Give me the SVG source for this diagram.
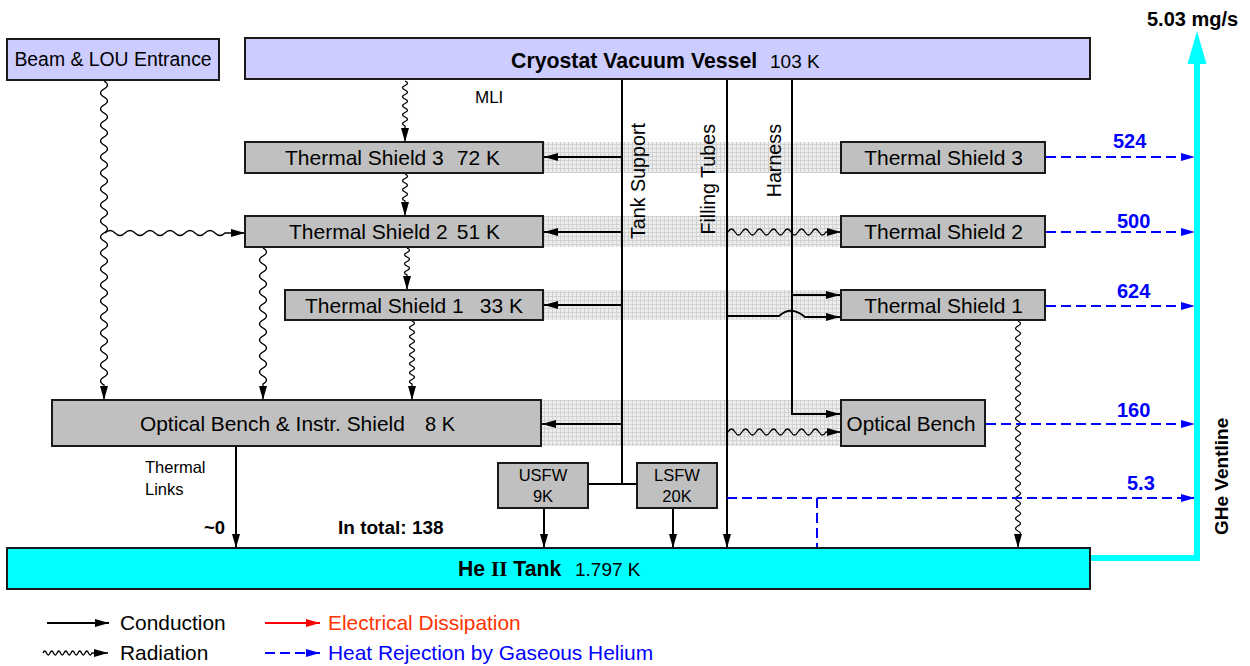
<svg xmlns="http://www.w3.org/2000/svg" width="1250" height="666" viewBox="0 0 1250 666">
<style>
.box{stroke:#1a1a1a;stroke-width:2}
.gray{fill:#c0c0c0}
.lav{fill:#ccccff}
.cyan{fill:#00ffff}
.band{fill:url(#hatch)}
text{font-family:"Liberation Sans",Arial,Helvetica,sans-serif;fill:#000;font-size:19px}
.b{font-weight:bold}
.m{text-anchor:middle}
.e{text-anchor:end}
.ts{font-size:21px}
.vl{font-size:19.7px}
.cond{fill:none;stroke:#000;stroke-width:2}
.rad{fill:none;stroke:#000;stroke-width:1.3}
.gas{fill:none;stroke:#0000ff;stroke-width:2;stroke-dasharray:10 5}
.num{fill:#0000ff;font-weight:bold;font-size:20px}
.leg{font-size:20.9px}
</style>
<defs>
<pattern id="hatch" width="4" height="4" patternUnits="userSpaceOnUse"><rect width="4" height="4" fill="#ededed"/><path d="M0 0.5H4M0.5 0V4" stroke="#d2d2d2" stroke-width="1"/></pattern>
<marker id="ah" viewBox="0 0 14 8" refX="14" refY="4" markerWidth="14" markerHeight="8" markerUnits="userSpaceOnUse" orient="auto"><path d="M0 0L14 4L0 8z" fill="#000"/></marker>
<marker id="ahb" viewBox="0 0 14 8" refX="14" refY="4" markerWidth="14" markerHeight="8" markerUnits="userSpaceOnUse" orient="auto"><path d="M0 0L14 4L0 8z" fill="#0000ff"/></marker>
<marker id="ahr" viewBox="0 0 14 8" refX="14" refY="4" markerWidth="14" markerHeight="8" markerUnits="userSpaceOnUse" orient="auto"><path d="M0 0L14 4L0 8z" fill="#ff0000"/></marker>
</defs>

<g id="bands">
<rect class="band" x="543" y="142" width="298" height="31"/>
<rect class="band" x="543" y="216" width="298" height="31"/>
<rect class="band" x="543" y="290" width="298" height="30"/>
<rect class="band" x="541" y="400" width="300" height="46"/>
</g>

<g id="connectors">
<!-- radiation -->
<path class="rad" marker-end="url(#ah)" d="M104 81q7 4 0 8t0 8t0 8t0 8t0 8t0 8t0 8t0 8t0 8t0 8t0 8t0 8t0 8t0 8t0 8t0 8t0 8t0 8t0 8t0 8t0 8t0 8t0 8t0 8t0 8t0 8t0 8t0 8t0 8t0 8t0 8t0 8t0 8t0 8t0 8t0 8t0 8t0 8L104 400"/>
<path class="rad" marker-end="url(#ah)" d="M105 233q5 -5 10 0t10 0t10 0t10 0t10 0t10 0t10 0t10 0t10 0t10 0t10 0t10 0L245 233"/>
<path class="rad" marker-end="url(#ah)" d="M405 81q5 2.25 0 4.5t0 4.5t0 4.5t0 4.5t0 4.5t0 4.5t0 4.5t0 4.5t0 4.5t0 4.5L405 142"/>
<path class="rad" marker-end="url(#ah)" d="M405 174q5 2.25 0 4.5t0 4.5t0 4.5t0 4.5t0 4.5t0 4.5L405 216"/>
<path class="rad" marker-end="url(#ah)" d="M407 248q5 2.25 0 4.5t0 4.5t0 4.5t0 4.5t0 4.5t0 4.5L407 290"/>
<path class="rad" marker-end="url(#ah)" d="M263 248q7 4 0 8t0 8t0 8t0 8t0 8t0 8t0 8t0 8t0 8t0 8t0 8t0 8t0 8t0 8t0 8t0 8t0 8L263 400"/>
<path class="rad" marker-end="url(#ah)" d="M412 321q5 2.25 0 4.5t0 4.5t0 4.5t0 4.5t0 4.5t0 4.5t0 4.5t0 4.5t0 4.5t0 4.5t0 4.5t0 4.5t0 4.5t0 4.5L412 400"/>
<path class="rad" marker-end="url(#ah)" d="M1018 321q5 2.5 0 5t0 5t0 5t0 5t0 5t0 5t0 5t0 5t0 5t0 5t0 5t0 5t0 5t0 5t0 5t0 5t0 5t0 5t0 5t0 5t0 5t0 5t0 5t0 5t0 5t0 5t0 5t0 5t0 5t0 5t0 5t0 5t0 5t0 5t0 5t0 5t0 5t0 5t0 5t0 5t0 5t0 5t0 5L1018 548"/>
<path class="rad" marker-end="url(#ah)" d="M728 232q3.5 -6 7 0t7 0t7 0t7 0t7 0t7 0t7 0t7 0t7 0t7 0t7 0t7 0t7 0t7 0L841 232"/>
<path class="rad" marker-end="url(#ah)" d="M728 432q3.5 -6 7 0t7 0t7 0t7 0t7 0t7 0t7 0t7 0t7 0t7 0t7 0t7 0t7 0t7 0L841 432"/>
<!-- conduction -->
<path class="cond" d="M622 80V484M588 484H637"/>
<path class="cond" marker-end="url(#ah)" d="M622 157H544"/>
<path class="cond" marker-end="url(#ah)" d="M622 232H544"/>
<path class="cond" marker-end="url(#ah)" d="M622 305H544"/>
<path class="cond" marker-end="url(#ah)" d="M622 424H542"/>
<path class="cond" marker-end="url(#ah)" d="M544 509V548"/>
<path class="cond" marker-end="url(#ah)" d="M673 509V548"/>
<path class="cond" marker-end="url(#ah)" d="M727 80V548"/>
<path class="cond" marker-end="url(#ah)" d="M727 316H779Q791 305 805 317H840"/>
<path class="cond" marker-end="url(#ah)" d="M792 80V414H840"/>
<path class="cond" marker-end="url(#ah)" d="M792 295H840"/>
<path class="cond" marker-end="url(#ah)" d="M236 447V548"/>
<!-- gaseous helium -->
<path class="gas" marker-end="url(#ahb)" d="M1046 157H1195"/>
<path class="gas" marker-end="url(#ahb)" d="M1046 232H1195"/>
<path class="gas" marker-end="url(#ahb)" d="M1046 306H1195"/>
<path class="gas" marker-end="url(#ahb)" d="M986 424H1195"/>
<path class="gas" marker-end="url(#ahb)" d="M727 498H1195"/>
<path class="gas" d="M817 498V548"/>
<!-- ventline -->
<path d="M1090 558H1197V62" fill="none" stroke="#00ffff" stroke-width="6"/>
<polygon points="1197,31 1187.5,64 1206.5,64" fill="#00ffff"/>
</g>

<g id="beam"><rect class="box lav" x="7" y="39" width="212" height="41"/><text class="m" x="113" y="66" style="font-size:19.4px">Beam &amp; LOU Entrance</text></g>
<g id="cryostat"><rect class="box lav" x="245" y="38" width="845" height="41"/><text class="b" x="511" y="68" style="font-size:21.3px">Cryostat Vacuum Vessel</text><text x="770" y="68">103 K</text></g>
<g id="ts3-left"><rect class="box gray" x="245" y="142" width="298" height="31"/><text class="ts" x="285" y="165">Thermal Shield 3</text><text class="ts e" x="500" y="165">72 K</text></g>
<g id="ts2-left"><rect class="box gray" x="245" y="216" width="298" height="31"/><text class="ts" x="289" y="239">Thermal Shield 2</text><text class="ts e" x="500" y="239">51 K</text></g>
<g id="ts1-left"><rect class="box gray" x="285" y="290" width="258" height="30"/><text class="ts" x="305" y="313">Thermal Shield 1</text><text class="ts e" x="523" y="313">33 K</text></g>
<g id="optical-bench-shield"><rect class="box gray" x="52" y="400" width="489" height="46"/><text x="140" y="431" style="font-size:20.9px">Optical Bench &amp; Instr. Shield</text><text class="e" x="455" y="431" style="font-size:20px">8 K</text></g>
<g id="ts3-right"><rect class="box gray" x="841" y="142" width="204" height="31"/><text class="ts m" x="943.5" y="165">Thermal Shield 3</text></g>
<g id="ts2-right"><rect class="box gray" x="841" y="216" width="204" height="31"/><text class="ts m" x="943.5" y="239">Thermal Shield 2</text></g>
<g id="ts1-right"><rect class="box gray" x="841" y="290" width="204" height="30"/><text class="ts m" x="943.5" y="313">Thermal Shield 1</text></g>
<g id="optical-bench-right"><rect class="box gray" x="841" y="400" width="144" height="46"/><text class="m" x="911" y="431" style="font-size:20.7px">Optical Bench</text></g>
<g id="usfw"><rect class="box gray" x="498" y="463" width="90" height="45"/><text class="m" x="543" y="481" style="font-size:16.5px">USFW</text><text class="m" x="543" y="502" style="font-size:16.5px">9K</text></g>
<g id="lsfw"><rect class="box gray" x="637" y="463" width="80" height="45"/><text class="m" x="677" y="481" style="font-size:16.5px">LSFW</text><text class="m" x="677" y="502" style="font-size:16.5px">20K</text></g>
<g id="he-tank"><rect class="box cyan" x="7" y="548" width="1083" height="41"/><text class="b" x="458" y="576" style="font-size:21.2px">He <tspan style="font-family:'Liberation Serif','Times New Roman',serif">II</tspan> Tank</text><text x="575" y="576">1.797 K</text></g>

<g id="labels">
<text x="475" y="103" style="font-size:17px">MLI</text>
<text class="vl" transform="translate(645,123) rotate(-90)" text-anchor="end">Tank Support</text>
<text class="vl" transform="translate(715,124) rotate(-90)" text-anchor="end">Filling Tubes</text>
<text class="vl" transform="translate(781,124) rotate(-90)" text-anchor="end">Harness</text>
<text x="145" y="473" style="font-size:16.5px">Thermal</text>
<text x="145" y="495" style="font-size:16.5px">Links</text>
<text class="b e" x="225" y="534" style="font-size:18.5px">~0</text>
<text class="b" x="338" y="534" style="font-size:19px">In total: 138</text>
<text class="b" x="1147" y="26" style="font-size:20px">5.03 mg/s</text>
<text class="num" x="1113" y="148">524</text>
<text class="num" x="1117" y="228">500</text>
<text class="num" x="1117" y="298">624</text>
<text class="num" x="1117" y="417">160</text>
<text class="num" x="1127" y="490">5.3</text>
<text class="b" transform="translate(1228,535) rotate(-90)">GHe Ventline</text>
</g>

<g id="legend">
<path class="cond" marker-end="url(#ah)" d="M47 623H109"/>
<text class="leg" x="120" y="630">Conduction</text>
<path class="rad" marker-end="url(#ah)" d="M43 653q1.75 -4 3.5 0t3.5 0t3.5 0t3.5 0t3.5 0t3.5 0t3.5 0t3.5 0t3.5 0t3.5 0t3.5 0t3.5 0t3.5 0t3.5 0L108 653"/>
<text class="leg" x="120" y="660">Radiation</text>
<path fill="none" stroke="#ff0000" stroke-width="2" marker-end="url(#ahr)" d="M265 623H320"/>
<text class="leg" x="328" y="630" style="fill:#ff3300">Electrical Dissipation</text>
<path class="gas" marker-end="url(#ahb)" d="M265 653H320"/>
<text class="leg" x="328" y="660" style="fill:#0000ff">Heat Rejection by Gaseous Helium</text>
</g>
</svg>
